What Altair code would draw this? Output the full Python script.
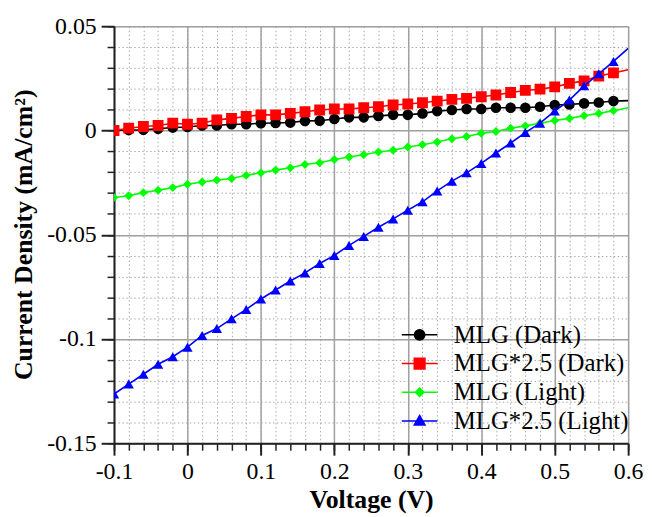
import altair as alt
import pandas as pd

voltage = [round(-0.1 + 0.02 * i, 2) for i in range(36)]

mlg_dark = [0.0, 0.0002, 0.0003, 0.0008, 0.0014, 0.0017, 0.0024, 0.0024, 0.0030, 0.0030,
            0.0035, 0.0036, 0.0038, 0.0046, 0.0047, 0.0055, 0.0063, 0.0063, 0.0070, 0.0075,
            0.0075, 0.0082, 0.0093, 0.0098, 0.0103, 0.0103, 0.0109, 0.0109, 0.0109, 0.0114,
            0.0122, 0.0125, 0.0130, 0.0134, 0.0141, 0.0143]
mlg25_dark = [0.0, 0.0011, 0.0019, 0.0024, 0.0035, 0.0030, 0.0035, 0.0051, 0.0058, 0.0067,
              0.0075, 0.0075, 0.0082, 0.0090, 0.0098, 0.0103, 0.0103, 0.0109, 0.0114, 0.0122,
              0.0127, 0.0133, 0.0141, 0.0149, 0.0154, 0.0162, 0.0170, 0.0182, 0.0192, 0.0198,
              0.0209, 0.0226, 0.0238, 0.0261, 0.0276, 0.0291]
mlg_light = [-0.0321, -0.0313, -0.0298, -0.0287, -0.0274, -0.0258, -0.0247, -0.0238, -0.0230, -0.0215,
             -0.0203, -0.0190, -0.0179, -0.0163, -0.0155, -0.0139, -0.0127, -0.0116, -0.0103, -0.0095,
             -0.0079, -0.0068, -0.0055, -0.0040, -0.0029, -0.0013, -0.0005, 0.0011, 0.0022, 0.0035,
             0.0048, 0.0058, 0.0071, 0.0082, 0.0095, 0.0109]
mlg25_light = [-0.1264, -0.1216, -0.1169, -0.1121, -0.1085, -0.1039, -0.0983, -0.0950, -0.0903, -0.0858,
               -0.0808, -0.0765, -0.0722, -0.0683, -0.0638, -0.0599, -0.0551, -0.0508, -0.0464, -0.0424,
               -0.0382, -0.0342, -0.0290, -0.0243, -0.0203, -0.0158, -0.0108, -0.0060, -0.0010, 0.0035,
               0.0093, 0.0146, 0.0214, 0.0272, 0.0331, 0.0394]

series_names = ["MLG (Dark)", "MLG*2.5 (Dark)", "MLG (Light)", "MLG*2.5 (Light)"]
series_values = [mlg_dark, mlg25_dark, mlg_light, mlg25_light]
series_colors = ["#000000", "#ff0000", "#00ff00", "#0000ff"]
series_shapes = ["circle", "square", "diamond", "triangle-up"]
series_sizes = [115, 120, 80, 110]
# legend symbols: a short line with the marker in its middle (unit r = 9 px)
legend_paths = [
    "M-2,0H2M0.58,0A0.58,0.58,0,1,1,-0.58,0A0.58,0.58,0,1,1,0.58,0Z",
    "M-2,0H2M-0.6,-0.6H0.6V0.6H-0.6Z",
    "M-2,0H2M0,-0.48L0.48,0L0,0.48L-0.48,0Z",
    "M-2,0H2M0,-0.62L0.6,0.46L-0.6,0.46Z",
]

x_major = [-0.1, 0, 0.1, 0.2, 0.3, 0.4, 0.5, 0.6]
x_minor = [round(-0.1 + 0.02 * i, 2) for i in range(36)]
y_major = [0.05, 0, -0.05, -0.1, -0.15]
y_minor = [round(-0.15 + 0.01 * i, 2) for i in range(21)]

rows = []
for name, vals in zip(series_names, series_values):
    for v, j in zip(voltage, vals):
        rows.append({"V": v, "J": j, "series": name})
df = pd.DataFrame(rows)

FONT = "Liberation Serif"
xs = alt.Scale(domain=[-0.1, 0.6], nice=False, zero=False)
ys = alt.Scale(domain=[-0.15, 0.05], nice=False, zero=False)

base = alt.Chart(df)

minor_layer = base.mark_point(opacity=0).encode(
    x=alt.X("V:Q", scale=xs, axis=alt.Axis(
        orient="bottom", values=x_minor, grid=True, gridDash=[1.5, 2.5], gridColor="#a8a8a8",
        gridWidth=1, labels=False, domain=False, ticks=True, tickSize=7, tickWidth=1.5,
        tickColor="#222222", title=None)),
    y=alt.Y("J:Q", scale=ys, axis=alt.Axis(
        orient="left", values=y_minor, grid=True, gridDash=[1.5, 2.5], gridColor="#a8a8a8",
        gridWidth=1, labels=False, domain=False, ticks=True, tickSize=7, tickWidth=1.5,
        tickColor="#222222", title=None)),
)

major_layer = base.mark_point(opacity=0).encode(
    x=alt.X("V:Q", scale=xs, axis=alt.Axis(
        orient="bottom", values=x_major, grid=True, gridColor="#a0a0a0", gridWidth=1.5,
        domain=True, domainColor="#222222", domainWidth=2, ticks=True, tickSize=12,
        tickWidth=2, tickColor="#222222", labelExpr="'' + datum.value",
        labelFont=FONT, labelFontSize=24, labelColor="black", labelPadding=5,
        labelFlush=False, labelOverlap=False,
        title="Voltage (V)", titleFont=FONT, titleFontSize=26, titleFontWeight="bold",
        titleColor="black", titleX=259.5, titleY=65, titleBaseline="alphabetic")),
    y=alt.Y("J:Q", scale=ys, axis=alt.Axis(
        orient="left", values=y_major, grid=True, gridColor="#a0a0a0", gridWidth=1.5,
        domain=True, domainColor="#222222", domainWidth=2, ticks=True, tickSize=13,
        tickWidth=2, tickColor="#222222", labelExpr="'' + datum.value",
        labelFont=FONT, labelFontSize=24, labelColor="black", labelPadding=5,
        labelFlush=False, labelOverlap=False, labelBaseline="middle",
        title="Current Density (mA/cm²)", titleFont=FONT, titleFontSize=26,
        titleFontWeight="bold", titleColor="black", titleX=-83, titleY=210,
        titleBaseline="alphabetic")),
)

layers = [minor_layer, major_layer]
for name, color, shape, size in zip(series_names, series_colors, series_shapes, series_sizes):
    sub = base.transform_filter(alt.datum.series == name)
    layers.append(sub.mark_line(color=color, strokeWidth=1.6, clip=True).encode(
        x=alt.X("V:Q", scale=xs, axis=None),
        y=alt.Y("J:Q", scale=ys, axis=None),
        order="V:Q",
    ))
    layers.append(sub.transform_filter(alt.datum.V < 0.59).mark_point(
        shape=shape, filled=True, size=size, color=color, opacity=1, clip=True).encode(
        x=alt.X("V:Q", scale=xs, axis=None),
        y=alt.Y("J:Q", scale=ys, axis=None),
    ))

legend_cfg = dict(
    orient="none", legendX=296, legendY=299, title=None, padding=0,
    labelFont=FONT, labelFontSize=25, labelColor="black", labelOffset=22, labelLimit=400,
    symbolSize=324, symbolStrokeWidth=1.5, rowPadding=3, symbolOpacity=1,
)
legend_layer = base.transform_filter("datum.V > 5").mark_point(filled=False).encode(
    x=alt.X("V:Q", scale=xs, axis=None),
    y=alt.Y("J:Q", scale=ys, axis=None),
    color=alt.Color("series:N", scale=alt.Scale(domain=series_names, range=series_colors),
                    sort=series_names, legend=alt.Legend(**legend_cfg)),
    fill=alt.Fill("series:N", scale=alt.Scale(domain=series_names, range=series_colors),
                  sort=series_names, legend=alt.Legend(**legend_cfg)),
    shape=alt.Shape("series:N", scale=alt.Scale(domain=series_names, range=legend_paths),
                    sort=series_names, legend=alt.Legend(**legend_cfg)),
)
layers.append(legend_layer)

chart = alt.layer(*layers).resolve_axis(x="independent", y="independent").properties(
    width=519, height=421,
    autosize=alt.AutoSizeParams(type="none"),
    padding={"left": 107, "top": 16, "right": 16, "bottom": 70},
).configure_view(stroke="#222222", strokeWidth=2).configure(background="white")

chart.save("out.html", embed_options={"renderer": "svg", "actions": False})
